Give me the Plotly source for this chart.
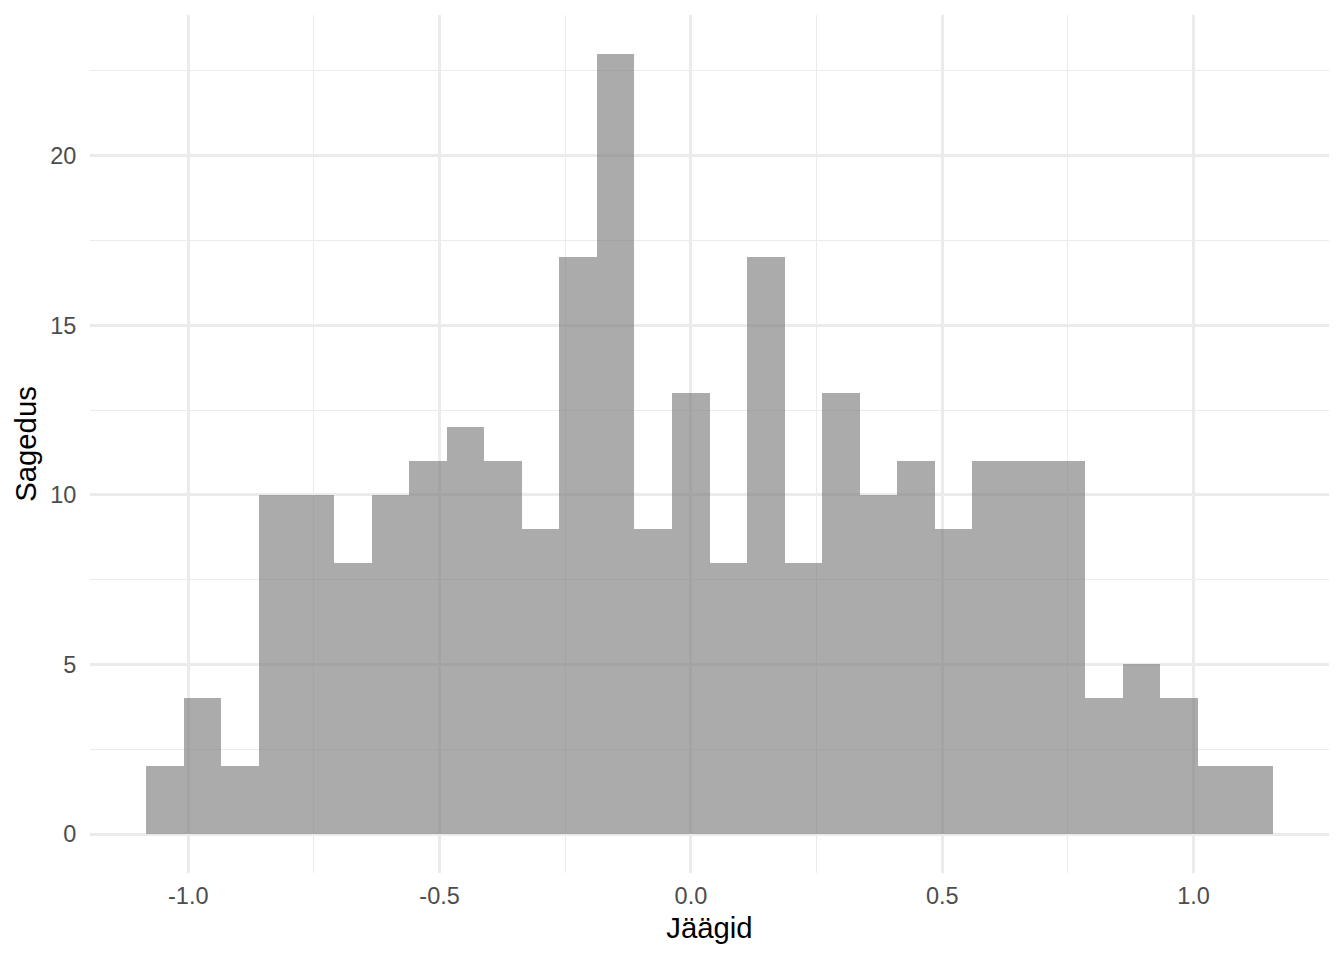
import plotly.graph_objects as go

# Histogram counts (30 bins)
counts = [2, 4, 2, 10, 10, 8, 10, 11, 12, 11, 9, 17, 23, 9, 13,
          8, 17, 8, 13, 10, 11, 9, 11, 11, 11, 4, 5, 4, 2, 2]
bin_start = -1.0835
bin_width = 0.0747

x_tick_vals = [-1.0, -0.5, 0.0, 0.5, 1.0]
x_tick_text = ["-1.0", "-0.5", "0.0", "0.5", "1.0"]
y_tick_vals = [0, 5, 10, 15, 20]
y_tick_text = ["0", "5", "10", "15", "20"]

centers = [bin_start + bin_width * (i + 0.5) for i in range(len(counts))]
x_min = bin_start
x_max = bin_start + bin_width * len(counts)
x_pad = (x_max - x_min) * 0.05
y_max = max(counts)
y_pad = y_max * 0.05

fig = go.Figure()
fig.add_trace(go.Bar(
    x=centers, y=counts, width=bin_width,
    marker=dict(color="rgba(127,127,127,0.656)", line=dict(width=0)),
))

font_family = "Liberation Sans, Arial, sans-serif"
grid_major = "#ebebeb"

fig.update_layout(
    width=1336, height=952,
    paper_bgcolor="white", plot_bgcolor="white",
    margin=dict(l=82, r=15, t=7, b=87),
    showlegend=False,
    bargap=0,
    font=dict(family=font_family),
    xaxis=dict(
        range=[x_min - x_pad, x_max + x_pad],
        tickvals=x_tick_vals, ticktext=x_tick_text,
        tickfont=dict(size=23.5, color="#4d4d4d"),
        showgrid=True, gridcolor=grid_major, gridwidth=2.8,
        minor=dict(tickvals=[-0.75, -0.25, 0.25, 0.75], showgrid=True,
                   gridcolor=grid_major, gridwidth=1.4, ticks=""),
        ticks="outside", ticklen=2, tickcolor="rgba(0,0,0,0)",
        zeroline=False, showline=False,
        title=dict(text="Jäägid", font=dict(size=29.3, color="black"), standoff=9),
    ),
    yaxis=dict(
        range=[-y_pad, y_max + y_pad],
        tickvals=y_tick_vals, ticktext=y_tick_text,
        tickfont=dict(size=23.5, color="#4d4d4d"),
        showgrid=True, gridcolor=grid_major, gridwidth=2.8,
        minor=dict(tickvals=[2.5, 7.5, 12.5, 17.5, 22.5], showgrid=True,
                   gridcolor=grid_major, gridwidth=1.4, ticks=""),
        ticks="outside", ticklen=8, tickcolor="rgba(0,0,0,0)",
        zeroline=False, showline=False,
        title=dict(text="Sagedus", font=dict(size=29.3, color="black"), standoff=4),
    ),
)

fig.write_html("out.html")
